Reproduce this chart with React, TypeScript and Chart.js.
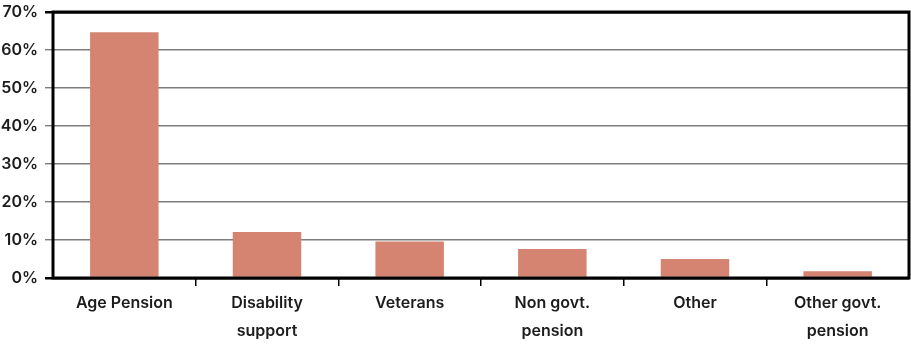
import React, { useEffect, useRef } from "react";
import { Chart, registerables } from "chart.js";

Chart.register(...registerables);

// Income source categories (multi-line labels as printed under the axis)
const categories: string[][] = [
  ["Age Pension"],
  ["Disability", "support"],
  ["Veterans"],
  ["Non govt.", "pension"],
  ["Other"],
  ["Other govt.", "pension"],
];

// Share of recipients, in percent
const shares: number[] = [64.7, 12.1, 9.6, 7.6, 5.0, 1.8];

// Y axis range and step, in percent
const yMin = 0;
const yMax = 70;
const yStep = 10;

const BAR_COLOR = "#d48470";
const TEXT_COLOR = "#1c1c1c";
const FONT_FAMILY = "Inter, 'Liberation Sans', sans-serif";

// Draws the heavy black frame around the plotting area
const framePlugin = {
  id: "plotFrame",
  afterDatasetsDraw(chart: Chart) {
    const { ctx, chartArea } = chart;
    ctx.save();
    ctx.strokeStyle = "#000";
    ctx.lineWidth = 3;
    ctx.strokeRect(
      chartArea.left,
      chartArea.top,
      chartArea.right - chartArea.left,
      chartArea.bottom - chartArea.top
    );
    ctx.restore();
  },
};

export default function App() {
  const canvasRef = useRef<HTMLCanvasElement | null>(null);

  useEffect(() => {
    if (!canvasRef.current) return;
    const chart = new Chart(canvasRef.current, {
      type: "bar",
      data: {
        labels: categories,
        datasets: [
          {
            data: shares,
            backgroundColor: BAR_COLOR,
            borderWidth: 0,
            categoryPercentage: 1,
            barPercentage: 0.48,
          },
        ],
      },
      plugins: [framePlugin],
      options: {
        responsive: false,
        animation: false,
        layout: { padding: { top: 12, right: 2, left: 0, bottom: 0 } },
        plugins: {
          legend: { display: false },
          tooltip: { enabled: false },
        },
        scales: {
          x: {
            afterFit(scale: any) {
              scale.height = 66;
              scale.paddingLeft = 0;
              scale.paddingRight = 0;
            },
            border: { display: false },
            grid: {
              offset: true,
              drawOnChartArea: false,
              drawTicks: true,
              tickLength: 8,
              lineWidth: 1.5,
              color: (ctx: any) =>
                ctx.type !== "tick" || ctx.index === 0 ? "rgba(0,0,0,0)" : "#000",
            },
            ticks: {
              color: TEXT_COLOR,
              padding: 3,
              maxRotation: 0,
              autoSkip: false,
              font: { family: FONT_FAMILY, size: 16, weight: 600, lineHeight: 1.75 },
            },
          },
          y: {
            min: yMin,
            max: yMax,
            afterFit(scale: any) {
              scale.width = 53;
              scale.paddingTop = 0;
              scale.paddingBottom = 0;
            },
            border: { display: false },
            grid: {
              drawTicks: true,
              tickLength: 8,
              lineWidth: (ctx: any) =>
                ctx.tick && (ctx.tick.value === yMin || ctx.tick.value === yMax) ? 2.5 : 1.4,
              color: (ctx: any) =>
                ctx.tick && (ctx.tick.value === yMin || ctx.tick.value === yMax)
                  ? "#000"
                  : "#7d7d7d",
            },
            ticks: {
              stepSize: yStep,
              color: TEXT_COLOR,
              padding: 7,
              font: { family: FONT_FAMILY, size: 16, weight: 600 },
              callback: (v: any) => `${v}%`,
            },
          },
        },
      },
    });
    return () => chart.destroy();
  }, []);

  return (
    <div style={{ position: "fixed", left: 0, top: 0, width: 911, height: 344, background: "#fff" }}>
      <canvas ref={canvasRef} width={911} height={344} style={{ display: "block" }} />
    </div>
  );
}
